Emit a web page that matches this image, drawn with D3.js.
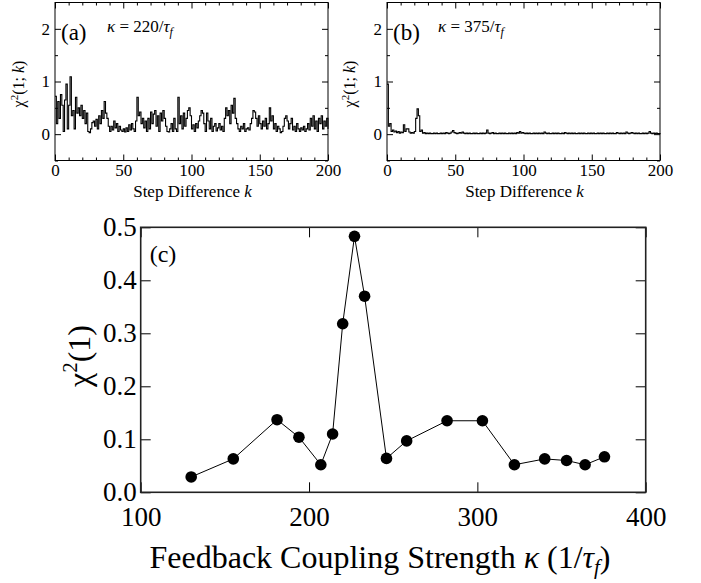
<!DOCTYPE html>
<html>
<head>
<meta charset="utf-8">
<script src="https://cdn.jsdelivr.net/npm/d3@7"></script>
<style>
  body { margin: 0; background: #fff; }
  text { font-family: "Liberation Serif", "DejaVu Serif", serif; fill: #000; }
</style>
</head>
<body>
<script>
// panel (c): feedback coupling strength vs chi^2(1)
var kappa = [130, 155, 181, 194, 207, 214, 220, 227, 233, 246, 258, 282, 303, 322, 340, 353, 364, 375.5];
var chi1 = [0.029, 0.063, 0.137, 0.104, 0.052, 0.110, 0.318, 0.483, 0.370, 0.064, 0.097, 0.135, 0.135, 0.052, 0.063, 0.060, 0.052, 0.067];

// panel (a): chi^2(1;k), kappa = 220/tau_f, k = 0..200
var chiA = [
  0.72, 0.20, 0.62, 0.30, 0.75, 0.55, 0.05, 0.65, 0.95, 0.10,
  0.55, 1.09, 0.35, 0.45, 0.10, 0.70, 0.40, 0.50, 0.35, 0.55,
  0.30, 0.45, 0.20, 0.40, 0.05, 0.03, 0.10, 0.22, 0.25, 0.15,
  0.28, 0.10, 0.35, 0.20, 0.45, 0.30, 0.62, 0.40, 0.30, 0.15,
  0.05, 0.15, 0.08, 0.25, 0.12, 0.20, 0.05, 0.15, 0.08, 0.05,
  0.10, 0.04, 0.12, 0.05, 0.18, 0.08, 0.20, 0.10, 0.05, 0.25,
  0.70, 0.35, 0.42, 0.20, 0.30, 0.12, 0.25, 0.05, 0.30, 0.10,
  0.42, 0.20, 0.38, 0.45, 0.15, 0.35, 0.05, 0.40, 0.25, 0.45,
  0.30, 0.15, 0.05, 0.04, 0.10, 0.20, 0.05, 0.30, 0.10, 0.05,
  0.70, 0.20, 0.35, 0.10, 0.40, 0.15, 0.30, 0.45, 0.50, 0.35,
  0.10, 0.18, 0.05, 0.20, 0.12, 0.25, 0.35, 0.45, 0.40, 0.20,
  0.05, 0.40, 0.25, 0.10, 0.30, 0.05, 0.15, 0.20, 0.06, 0.12,
  0.20, 0.08, 0.15, 0.05, 0.30, 0.50, 0.35, 0.45, 0.20, 0.55,
  0.40, 0.68, 0.30, 0.20, 0.10, 0.05, 0.15, 0.10, 0.20, 0.05,
  0.10, 0.12, 0.08, 0.20, 0.30, 0.45, 0.42, 0.30, 0.15, 0.35,
  0.20, 0.10, 0.25, 0.15, 0.30, 0.10, 0.20, 0.50, 0.25, 0.35,
  0.10, 0.20, 0.05, 0.15, 0.10, 0.03, 0.05, 0.15, 0.30, 0.35,
  0.25, 0.10, 0.20, 0.30, 0.08, 0.15, 0.05, 0.20, 0.10, 0.05,
  0.12, 0.08, 0.15, 0.05, 0.10, 0.20, 0.08, 0.30, 0.15, 0.35,
  0.10, 0.25, 0.05, 0.30, 0.20, 0.35, 0.10, 0.25, 0.15, 0.30,
  0.10
];

// panel (b): chi^2(1;k), kappa = 375/tau_f, k = 0..200
var chiB = [
  0.95, 0.15, 0.20, 0.05, 0.08, 0.04, 0.06, 0.03, 0.05, 0.02,
  0.04, 0.03, 0.18, 0.05, 0.10, 0.10, 0.04, 0.02, 0.03, 0.02,
  0.05, 0.30, 0.48, 0.35, 0.05, 0.08, 0.02, 0.03, 0.01, 0.02,
  0.01, 0.02, 0.01, 0.01, 0.02, 0.01, 0.02, 0.01, 0.01, 0.02,
  0.01, 0.02, 0.01, 0.03, 0.02, 0.01, 0.02, 0.04, 0.07, 0.03,
  0.02, 0.01, 0.02, 0.03, 0.02, 0.04, 0.02, 0.01, 0.02, 0.01,
  0.02, 0.01, 0.01, 0.02, 0.01, 0.02, 0.01, 0.01, 0.02, 0.01,
  0.02, 0.01, 0.02, 0.08, 0.02, 0.01, 0.02, 0.03, 0.01, 0.02,
  0.01, 0.01, 0.02, 0.01, 0.02, 0.01, 0.02, 0.01, 0.01, 0.02,
  0.01, 0.02, 0.01, 0.02, 0.01, 0.03, 0.02, 0.05, 0.02, 0.03,
  0.02, 0.01, 0.02, 0.01, 0.02, 0.01, 0.01, 0.02, 0.01, 0.02,
  0.01, 0.02, 0.01, 0.02, 0.01, 0.04, 0.02, 0.01, 0.02, 0.01,
  0.01, 0.02, 0.01, 0.02, 0.01, 0.02, 0.01, 0.01, 0.02, 0.01,
  0.03, 0.02, 0.01, 0.02, 0.01, 0.02, 0.01, 0.02, 0.01, 0.01,
  0.02, 0.01, 0.02, 0.01, 0.02, 0.01, 0.01, 0.02, 0.01, 0.02,
  0.01, 0.02, 0.01, 0.01, 0.02, 0.01, 0.02, 0.01, 0.02, 0.01,
  0.01, 0.02, 0.01, 0.02, 0.01, 0.02, 0.01, 0.01, 0.03, 0.02,
  0.01, 0.02, 0.01, 0.02, 0.01, 0.04, 0.02, 0.01, 0.02, 0.03,
  0.02, 0.01, 0.02, 0.01, 0.02, 0.01, 0.01, 0.02, 0.01, 0.02,
  0.01, 0.02, 0.05, 0.02, 0.01, 0.02, 0.01, 0.02, 0.01, 0.01,
  0.02
];

var smallXTicks = [0, 50, 100, 150, 200];
var smallYTicks = [0, 1, 2];
var bigXTicks = [100, 200, 300, 400];
var bigYTicks = [0.0, 0.1, 0.2, 0.3, 0.4, 0.5];

var W = 701, H = 583;
var svg = d3.select("body").append("svg")
    .attr("width", W)
    .attr("height", H);

//=================================================
// small panels (a) and (b)
//=================================================
function smallPanel(left, data, tag, kapVal, kapX, ylabX) {
    var top = 2.5, bottom = 160.5, width = 273;
    var x = d3.scaleLinear().domain([0, 200]).range([left, left + width]);
    var y = d3.scaleLinear().domain([-0.5, 2.5]).range([bottom, top]);
    var g = svg.append("g");

    var minorX = d3.range(0, 201, 10).filter(function (d) { return d % 50 != 0; });
    var minorY = [-0.5, 0.5, 1.5];

    // ticks, pointing inward on all sides
    g.append("g").attr("transform", "translate(0," + bottom + ")")
        .call(d3.axisBottom(x).tickValues(smallXTicks).tickSize(-6).tickPadding(3)
            .tickFormat(d3.format("d")))
        .call(function (a) { a.select(".domain").remove(); })
        .selectAll("text").attr("font-size", 17);
    g.append("g").attr("transform", "translate(0," + bottom + ")")
        .call(d3.axisBottom(x).tickValues(minorX).tickSize(-3).tickFormat(""))
        .select(".domain").remove();
    g.append("g").attr("transform", "translate(0," + top + ")")
        .call(d3.axisTop(x).tickValues(smallXTicks).tickSize(-6).tickFormat(""))
        .select(".domain").remove();
    g.append("g").attr("transform", "translate(0," + top + ")")
        .call(d3.axisTop(x).tickValues(minorX).tickSize(-3).tickFormat(""))
        .select(".domain").remove();

    g.append("g").attr("transform", "translate(" + left + ",0)")
        .call(d3.axisLeft(y).tickValues(smallYTicks).tickSize(-6).tickPadding(5)
            .tickFormat(d3.format("d")))
        .call(function (a) { a.select(".domain").remove(); })
        .selectAll("text").attr("font-size", 17);
    g.append("g").attr("transform", "translate(" + left + ",0)")
        .call(d3.axisLeft(y).tickValues(minorY).tickSize(-3).tickFormat(""))
        .select(".domain").remove();
    g.append("g").attr("transform", "translate(" + (left + width) + ",0)")
        .call(d3.axisRight(y).tickValues(smallYTicks).tickSize(-6).tickFormat(""))
        .select(".domain").remove();
    g.append("g").attr("transform", "translate(" + (left + width) + ",0)")
        .call(d3.axisRight(y).tickValues(minorY).tickSize(-3).tickFormat(""))
        .select(".domain").remove();

    g.selectAll(".tick line").attr("stroke", "#000");

    var line = d3.line()
        .x(function (d, i) { return x(i); })
        .y(function (d) { return y(d); })
        .curve(d3.curveStepAfter);
    g.append("path")
        .datum(data)
        .attr("fill", "none")
        .attr("stroke", "#000")
        .attr("stroke-width", 1.1)
        .attr("d", line);

    g.append("rect")
        .attr("x", left).attr("y", top)
        .attr("width", width).attr("height", bottom - top)
        .attr("fill", "none").attr("stroke", "#000").attr("stroke-width", 1);

    // labels
    g.append("text")
        .attr("x", left + width / 2 + 1).attr("y", 197)
        .attr("text-anchor", "middle").attr("font-size", 17)
        .html("Step Difference <tspan font-style='italic'>k</tspan>");

    g.append("text")
        .attr("transform", "translate(" + ylabX + ",84) rotate(-90)")
        .attr("text-anchor", "middle").attr("font-size", 16)
        .html("χ<tspan dy='-6' font-size='11'>2</tspan><tspan dy='6'>(1; </tspan><tspan font-style='italic'>k</tspan>)");

    g.append("text")
        .attr("x", left + 6).attr("y", 40)
        .attr("font-size", 23)
        .text(tag);

    g.append("text")
        .attr("x", kapX).attr("y", 32)
        .attr("font-size", 17)
        .html("<tspan font-style='italic'>κ</tspan> = " + kapVal +
            "/<tspan font-style='italic'>τ</tspan><tspan font-style='italic' font-size='12' dy='4'>f</tspan>");
}

smallPanel(55, chiA, "(a)", "220", 107, 24);
smallPanel(387, chiB, "(b)", "375", 438, 355);

//=================================================
// main panel (c)
//=================================================
var cL = 140.7, cR = 645.7, cT = 227.3, cB = 492.3;
var xC = d3.scaleLinear().domain([100, 400]).range([cL, cR]);
var yC = d3.scaleLinear().domain([0, 0.5]).range([cB, cT]);
var gc = svg.append("g");

gc.append("g").attr("transform", "translate(0," + cB + ")")
    .call(d3.axisBottom(xC).tickValues(bigXTicks).tickSize(-10).tickPadding(15)
        .tickFormat(d3.format("d")))
    .call(function (a) { a.select(".domain").remove(); })
    .selectAll("text").attr("font-size", 27);
gc.append("g").attr("transform", "translate(0," + cT + ")")
    .call(d3.axisTop(xC).tickValues(bigXTicks).tickSize(-10).tickFormat(""))
    .select(".domain").remove();
gc.append("g").attr("transform", "translate(" + cL + ",0)")
    .call(d3.axisLeft(yC).tickValues(bigYTicks).tickSize(-10).tickPadding(4)
        .tickFormat(d3.format(".1f")))
    .call(function (a) { a.select(".domain").remove(); })
    .selectAll("text").attr("font-size", 27);
gc.append("g").attr("transform", "translate(" + cR + ",0)")
    .call(d3.axisRight(yC).tickValues(bigYTicks).tickSize(-10).tickFormat(""))
    .select(".domain").remove();
gc.selectAll(".tick line").attr("stroke", "#000");

gc.append("rect")
    .attr("x", cL).attr("y", cT)
    .attr("width", cR - cL).attr("height", cB - cT)
    .attr("fill", "none").attr("stroke", "#222").attr("stroke-width", 1.6);

var pts = kappa.map(function (k, i) { return [k, chi1[i]]; });
gc.append("path")
    .datum(pts)
    .attr("fill", "none")
    .attr("stroke", "#000")
    .attr("stroke-width", 1)
    .attr("d", d3.line()
        .x(function (d) { return xC(d[0]); })
        .y(function (d) { return yC(d[1]); }));

gc.selectAll("circle")
    .data(pts)
    .enter().append("circle")
    .attr("cx", function (d) { return xC(d[0]); })
    .attr("cy", function (d) { return yC(d[1]); })
    .attr("r", 5.8)
    .attr("fill", "#000");

gc.append("text")
    .attr("x", cL + 9).attr("y", 262)
    .attr("font-size", 24)
    .text("(c)");

gc.append("text")
    .attr("transform", "translate(90,356) rotate(-90)")
    .attr("text-anchor", "middle").attr("font-size", 32)
    .html("χ<tspan dy='-13' font-size='21'>2</tspan><tspan dy='13'>(1)</tspan>");

gc.append("text")
    .attr("x", 380).attr("y", 568)
    .attr("text-anchor", "middle").attr("font-size", 32)
    .html("Feedback Coupling Strength <tspan font-style='italic'>κ</tspan> (1/<tspan font-style='italic'>τ</tspan><tspan font-style='italic' font-size='21' dy='6'>f</tspan><tspan dy='-6'>)</tspan>");
</script>
</body>
</html>
